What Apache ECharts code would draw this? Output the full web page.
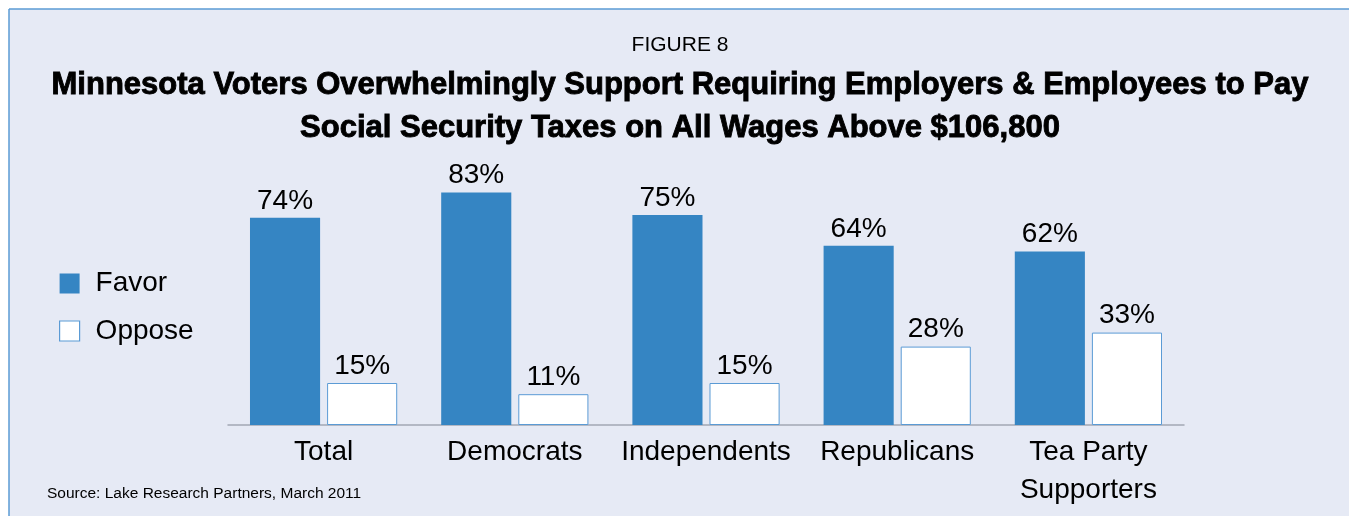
<!DOCTYPE html>
<html><head><meta charset="utf-8">
<script src="https://cdn.jsdelivr.net/npm/echarts@6/dist/echarts.min.js"></script>
<style>html,body{margin:0;padding:0;background:#fff;}#c{width:1349px;height:516px;}</style>
</head><body><div id="c"></div>
<script>
const categories = ['Total', 'Democrats', 'Independents', 'Republicans', 'Tea Party\nSupporters'];
const favor = [74, 83, 75, 64, 62];
const oppose = [15, 11, 15, 28, 33];
const seriesNames = ['Favor', 'Oppose'];
const figureLabel = 'FIGURE 8';
const titleLines = ['Minnesota Voters Overwhelmingly Support Requiring Employers & Employees to Pay', 'Social Security Taxes on All Wages Above $106,800'];
const sourceText = 'Source: Lake Research Partners, March 2011';

const FONT = '"Liberation Sans", Arial, Helvetica, sans-serif';
const chart = echarts.init(document.getElementById('c'), null, {renderer: 'canvas'});
const labelStyle = {show: true, position: 'top', distance: 3, color: '#000', fontFamily: FONT, fontSize: 28, formatter: '{c}%'};
chart.setOption({
  animation: false,
  graphic: [
    {type: 'rect', z: -10, silent: true, shape: {x: 9, y: 9, width: 1345, height: 512}, style: {fill: '#e6eaf5'}},
    {type: 'line', z: -9, silent: true, shape: {x1: 9, y1: 9, x2: 1352, y2: 9}, style: {stroke: '#5b9bd5', lineWidth: 1.5}},
    {type: 'line', z: -9, silent: true, shape: {x1: 9, y1: 9, x2: 9, y2: 520}, style: {stroke: '#5b9bd5', lineWidth: 1.5}},
    {type: 'text', x: 680, y: 45, style: {text: figureLabel, fontFamily: FONT, fontSize: 21, fill: '#000', textAlign: 'center', textVerticalAlign: 'middle'}},
    {type: 'text', x: 680, y: 85, style: {text: titleLines[0], fontFamily: FONT, fontSize: 31, fontWeight: 'bold', fill: '#000', stroke: '#000', lineWidth: 0.9, textAlign: 'center', textVerticalAlign: 'middle'}},
    {type: 'text', x: 680, y: 128, style: {text: titleLines[1], fontFamily: FONT, fontSize: 31, fontWeight: 'bold', fill: '#000', stroke: '#000', lineWidth: 0.9, textAlign: 'center', textVerticalAlign: 'middle'}},
    {type: 'text', x: 47, y: 494, style: {text: sourceText, fontFamily: FONT, fontSize: 15.5, fill: '#000', textVerticalAlign: 'middle'}}
  ],
  legend: {
    orient: 'vertical', left: 59, top: 266.5, itemGap: 13.5, itemWidth: 20, itemHeight: 20, padding: 0,
    data: [
      {name: seriesNames[0], icon: 'rect'},
      {name: seriesNames[1], icon: 'rect', itemStyle: {color: '#fff', borderColor: '#5b9bd5', borderWidth: 1.2}}
    ],
    textStyle: {fontFamily: FONT, fontSize: 28, lineHeight: 34, color: '#000', padding: [0, 0, 0, 11]}
  },
  grid: {left: 228, right: 165, top: 145, bottom: 91},
  xAxis: {
    type: 'category', data: categories,
    axisLine: {lineStyle: {color: '#a3a8b4', width: 1.5}},
    axisTick: {show: false},
    axisLabel: {interval: 0, fontFamily: FONT, fontSize: 28, color: '#000', margin: 8, lineHeight: 38}
  },
  yAxis: {type: 'value', min: 0, max: 100, show: false, splitLine: {show: false}},
  series: [
    {name: seriesNames[0], type: 'bar', data: favor, barGap: '10%', barCategoryGap: '23%',
     itemStyle: {color: '#3585c3'}, label: labelStyle},
    {name: seriesNames[1], type: 'bar', data: oppose,
     itemStyle: {color: '#fff', borderColor: '#5b9bd5', borderWidth: 1}, label: labelStyle}
  ]
});
</script></body></html>
